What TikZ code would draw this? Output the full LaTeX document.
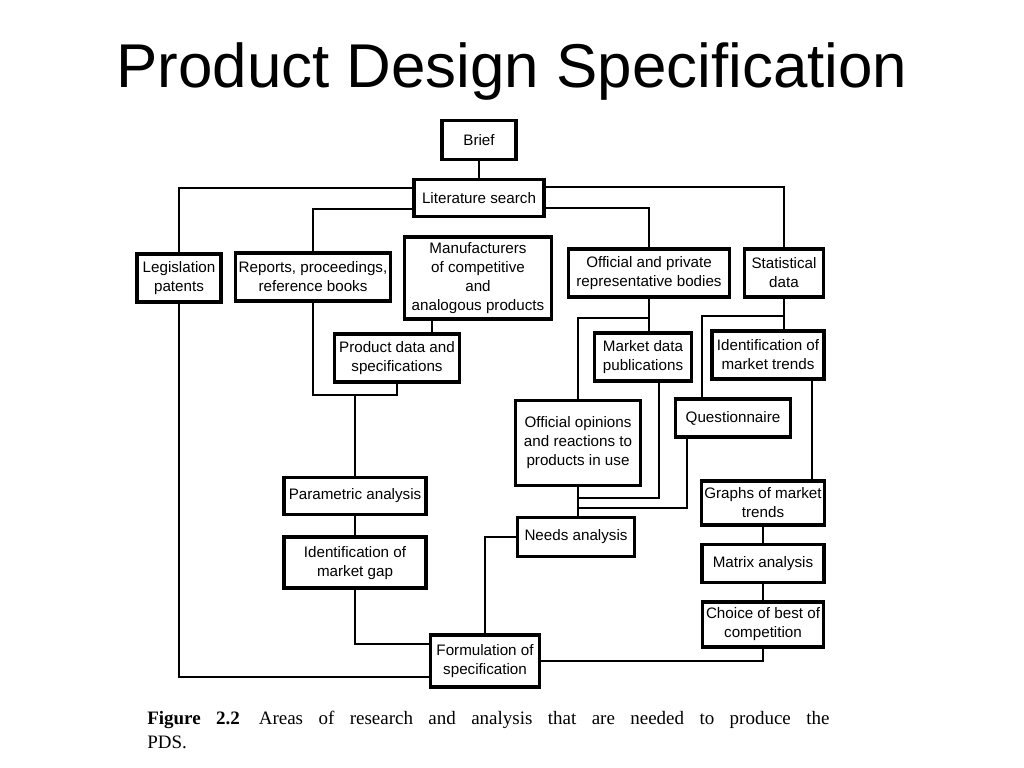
\documentclass[tikz,border=0pt]{standalone}
\usepackage{fontspec}
\setmainfont{Liberation Sans}
\newfontfamily\capfont{Liberation Serif}
\usetikzlibrary{positioning,calc}

\begin{document}
\begin{tikzpicture}[
    x=0.025cm, y=-0.025cm,
    block/.style={rectangle, draw, line width=2.5pt, align=center, inner sep=2pt, font=\fontsize{10.8}{13.5}\selectfont},
    dims/.style 2 args={minimum width=#1*0.025cm, minimum height=#2*0.025cm},
    link/.style={draw, line width=1.2pt},
    node distance=0.4cm
]
    \useasboundingbox (0,0) rectangle (1024,768);

    \node[font=\fontsize{44}{50}\selectfont, anchor=base] (title) at (512,88) {Product Design Specification};

    \node[block, dims={74}{39}] (brief) at (479,140) {Brief};
    \node[block, dims={130}{37}] (lit) at (479,198) {Literature search};
    \node[block, dims={84}{48}] (legis) at (179,278) {Legislation\\patents};
    \node[block, dims={155}{48}] (reports) at (313,277) {Reports, proceedings,\\reference books};
    \node[block, dims={147}{82}] (manuf) at (478,278) {Manufacturers\\of competitive\\and\\analogous products};
    \node[block, dims={161}{48}] (offic) at (649,273) {Official and private\\representative bodies};
    \node[block, dims={79}{48}] (stat) at (784,273) {Statistical\\data};
    \node[block, dims={125}{48}] (prod) at (397,358) {Product data and\\specifications};
    \node[block, dims={97}{48}] (mdata) at (643,357) {Market data\\publications};
    \node[block, dims={112}{48}] (trends) at (768,355) {Identification of\\market trends};
    \node[block, dims={125}{85}] (opin) at (578,443) {Official opinions\\and reactions to\\products in use};
    \node[block, dims={115}{38}] (quest) at (733,418) {Questionnaire};
    \node[block, dims={142}{37}] (param) at (355,496) {Parametric analysis};
    \node[block, dims={142}{51}, below=0.48cm of param] (gap) {Identification of\\market gap};
    \node[block, dims={117}{39}] (needs) at (576,537) {Needs analysis};
    \node[block, dims={121}{44}] (graphs) at (763,503) {Graphs of market\\trends};
    \node[block, dims={122}{38}, below=of graphs] (matrix) {Matrix analysis};
    \node[block, dims={121}{45}, below=of matrix] (choice) {Choice of best of\\competition};
    \node[block, dims={109}{52}] (form) at (485,661) {Formulation of\\specification};

    \coordinate (rp) at (355,395);
    \coordinate (op) at (649,318);
    \coordinate (st) at (784,316);

    \draw[link] (brief) -- (lit);
    \draw[link] ([yshift=0.25cm]lit.west) -| (legis.north);
    \draw[link] ([yshift=-0.275cm]lit.west) -| (reports.north);
    \draw[link] ([yshift=0.275cm]lit.east) -| (stat.north);
    \draw[link] ([yshift=-0.25cm]lit.east) -| (offic.north);
    \draw[link] ([xshift=-1.15cm]manuf.south) -- ([xshift=-1.15cm]manuf.south |- prod.north);
    \draw[link] (reports.south) |- (rp) -| (prod.south);
    \draw[link] (rp) -- (param.north);
    \draw[link] (param) -- (gap);
    \draw[link] (gap.south) |- ([yshift=0.425cm]form.west);
    \draw[link] (legis.south) |- ([yshift=-0.4cm]form.west);
    \draw[link] (form.north) |- (needs.west);
    \draw[link] (form.east) -| (choice.south);
    \draw[link] (choice) -- (matrix);
    \draw[link] (matrix) -- (graphs);
    \draw[link] ([xshift=1.1cm]trends.south) -- ([xshift=1.1cm]trends.south |- graphs.north);
    \draw[link] (offic.south) -- (op) -| (opin.north);
    \draw[link] (op) -- (op |- mdata.north);
    \draw[link] (stat.south) -- (st) -| ([xshift=-0.775cm]quest.north);
    \draw[link] (st) -- (st |- trends.north);
    \draw[link] ([xshift=0.4cm]mdata.south) |- (opin.south |- 0,498);
    \draw[link] ([xshift=-1.15cm]quest.south) |- (opin.south |- 0,508);
    \draw[link] (opin.south) -- (opin.south |- needs.north);

    \node[anchor=north west, inner sep=0pt, text width=17.05cm, align=justify, font=\capfont\fontsize{13.5}{17}\selectfont] (caption) at (147,711) {\textbf{Figure 2.2}\quad Areas of research and analysis that are needed to produce the\linebreak PDS.};
\end{tikzpicture}
\end{document}
